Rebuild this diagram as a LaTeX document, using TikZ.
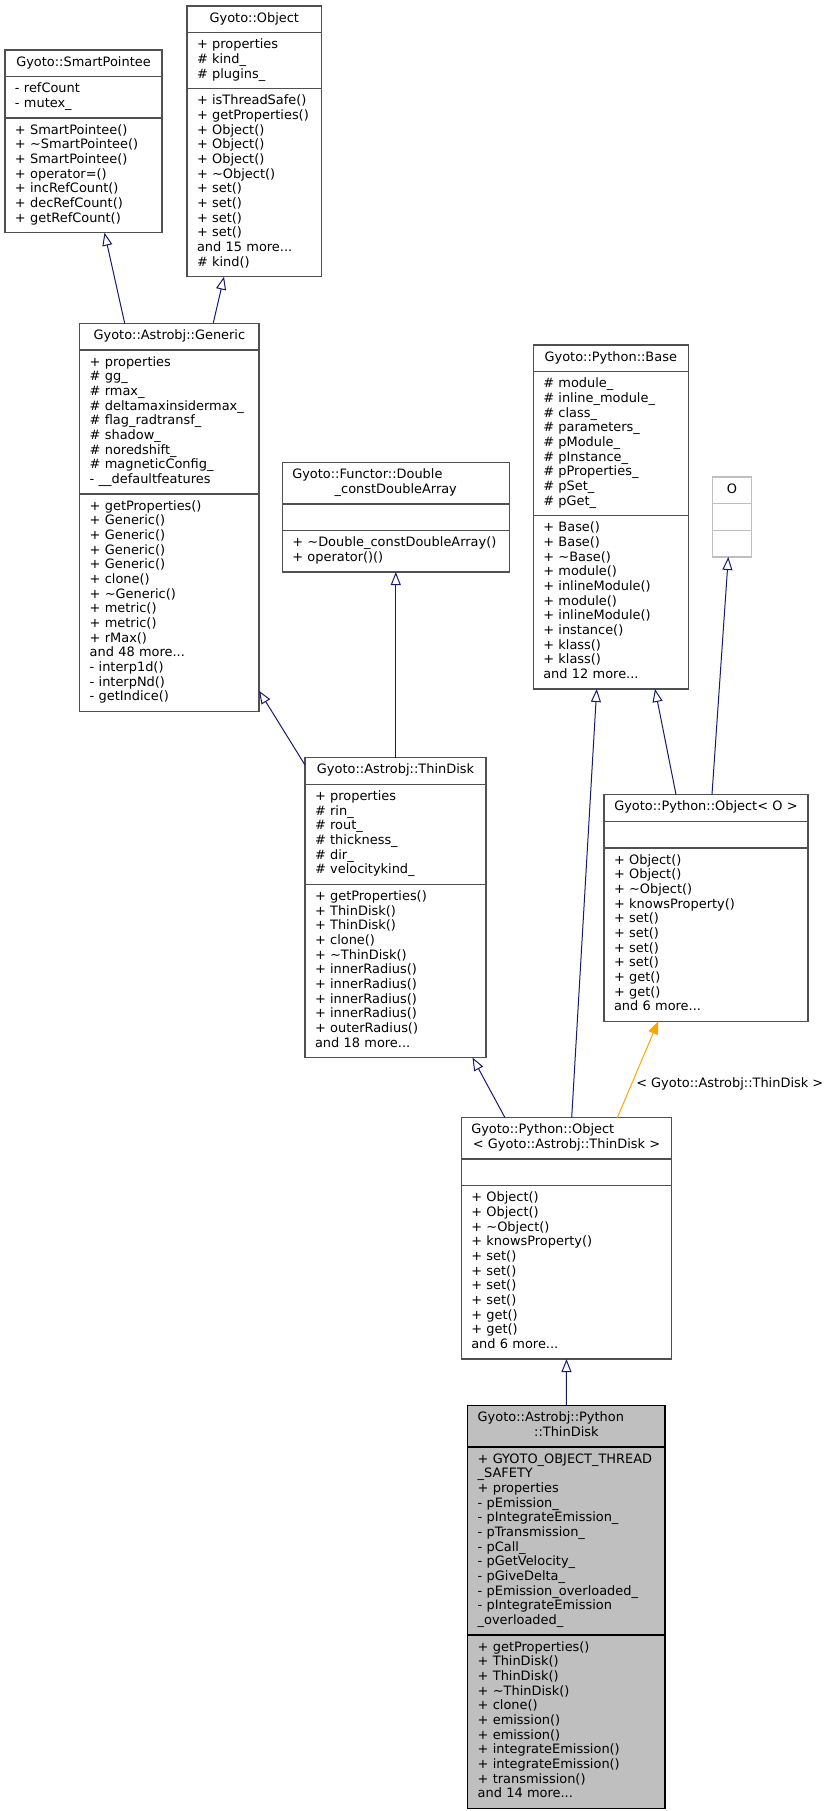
\documentclass[tikz,border=0pt]{standalone}
\usepackage{fontspec}
\setmainfont{DejaVu Sans}
\usepackage{xcolor}
\usepackage{tikz}
\usetikzlibrary{shapes.multipart,arrows.meta,calc}
\definecolor{edgeblue}{HTML}{191970}
\definecolor{edgeorange}{HTML}{FFA500}
\definecolor{boxgray}{HTML}{505050}
\definecolor{lightgray}{HTML}{BFBFBF}
\definecolor{maingray}{HTML}{BFBFBF}
\newcommand{\umlfont}{\fontsize{9.7}{11}\selectfont\parindent=0pt\relax}
\newcommand{\chead}[1]{\strut\makebox[\hsize]{#1}\strut}
\newcommand{\cheadtwo}[2]{\strut\makebox[\hsize][l]{#1}\\\makebox[\hsize]{#2}\strut}
\newcommand{\mlist}[1]{\begin{tabular}[t]{@{}l@{}}#1\end{tabular}}

\begin{document}
\begin{tikzpicture}[x=0.75pt,y=-0.75pt,
  cls/.style={draw=boxgray, line width=1pt, fill=white, rectangle split,
    rectangle split parts=3, anchor=north west, inner xsep=7.5pt,
    inner ysep=4pt, outer sep=0pt, align=left, font=\umlfont},
  mainbox/.style={cls, draw=black, fill=maingray},
  inh/.style={draw=edgeblue, line width=0.75pt,
    -{Triangle[open,length=9.75pt,width=7.5pt]}},
  tmpl/.style={draw=edgeorange, line width=0.75pt,
    -{Triangle[length=9.75pt,width=7.5pt]}}]
  \useasboundingbox (0,0) rectangle (832,1811);

  \node[cls, text width=102.75pt] (smart) at (5,50)
    {\chead{Gyoto::SmartPointee}
     \nodepart{two}\mlist{- refCount\\- mutex\_}
     \nodepart{three}\mlist{+ SmartPointee()\\+ \textasciitilde SmartPointee()\\+ SmartPointee()\\+ operator=()\\+ incRefCount()\\+ decRefCount()\\+ getRefCount()}};
  \node[cls, text width=86pt] (obj) at (187,6)
    {\chead{Gyoto::Object}
     \nodepart{two}\mlist{+ properties\\\# kind\_\\\# plugins\_}
     \nodepart{three}\mlist{+ isThreadSafe()\\+ getProperties()\\+ Object()\\+ Object()\\+ Object()\\+ \textasciitilde Object()\\+ set()\\+ set()\\+ set()\\+ set()\\and 15 more...\\\# kind()}};
  \node[cls, text width=119.5pt] (generic) at (79.7,323.3)
    {\chead{Gyoto::Astrobj::Generic}
     \nodepart{two}\mlist{+ properties\\\# gg\_\\\# rmax\_\\\# deltamaxinsidermax\_\\\# flag\_radtransf\_\\\# shadow\_\\\# noredshift\_\\\# magneticConfig\_\\- \_\_defaultfeatures}
     \nodepart{three}\mlist{+ getProperties()\\+ Generic()\\+ Generic()\\+ Generic()\\+ Generic()\\+ clone()\\+ \textasciitilde Generic()\\+ metric()\\+ metric()\\+ rMax()\\and 48 more...\\- interp1d()\\- interpNd()\\- getIndice()}};
  \node[cls, text width=155.25pt] (functor) at (282.3,462.7)
    {\cheadtwo{Gyoto::Functor::Double}{\_constDoubleArray}
     \nodepart{two}\strut
     \nodepart{three}\mlist{+ \textasciitilde Double\_constDoubleArray()\\+ operator()()}};
  \node[cls, text width=101.25pt] (base) at (533.3,345)
    {\chead{Gyoto::Python::Base}
     \nodepart{two}\mlist{\# module\_\\\# inline\_module\_\\\# class\_\\\# parameters\_\\\# pModule\_\\\# pInstance\_\\\# pProperties\_\\\# pSet\_\\\# pGet\_}
     \nodepart{three}\mlist{+ Base()\\+ Base()\\+ \textasciitilde Base()\\+ module()\\+ inlineModule()\\+ module()\\+ inlineModule()\\+ instance()\\+ klass()\\+ klass()\\and 12 more...}};
  \node[cls, draw=lightgray, text width=14pt] (tparam) at (712.7,477)
    {\chead{O}
     \nodepart{two}\strut
     \nodepart{three}\strut};
  \node[cls, text width=120.75pt] (thin) at (305,757.5)
    {\chead{Gyoto::Astrobj::ThinDisk}
     \nodepart{two}\mlist{+ properties\\\# rin\_\\\# rout\_\\\# thickness\_\\\# dir\_\\\# velocitykind\_}
     \nodepart{three}\mlist{+ getProperties()\\+ ThinDisk()\\+ ThinDisk()\\+ clone()\\+ \textasciitilde ThinDisk()\\+ innerRadius()\\+ innerRadius()\\+ innerRadius()\\+ innerRadius()\\+ outerRadius()\\and 18 more...}};
  \node[cls, text width=138pt] (pyobjO) at (604,794.5)
    {\chead{Gyoto::Python::Object< O >}
     \nodepart{two}\strut
     \nodepart{three}\mlist{+ Object()\\+ Object()\\+ \textasciitilde Object()\\+ knowsProperty()\\+ set()\\+ set()\\+ set()\\+ set()\\+ get()\\+ get()\\and 6 more...}};
  \node[cls, text width=142.8pt] (pyobjTD) at (461.3,1117.7)
    {\cheadtwo{Gyoto::Python::Object}{< Gyoto::Astrobj::ThinDisk >}
     \nodepart{two}\strut
     \nodepart{three}\mlist{+ Object()\\+ Object()\\+ \textasciitilde Object()\\+ knowsProperty()\\+ set()\\+ set()\\+ set()\\+ set()\\+ get()\\+ get()\\and 6 more...}};
  \node[mainbox, text width=133pt] (pythin) at (467.7,1405.7)
    {\cheadtwo{Gyoto::Astrobj::Python}{::ThinDisk}
     \nodepart{two}\mlist{+ GYOTO\_OBJECT\_THREAD\\\_SAFETY\\+ properties\\- pEmission\_\\- pIntegrateEmission\_\\- pTransmission\_\\- pCall\_\\- pGetVelocity\_\\- pGiveDelta\_\\- pEmission\_overloaded\_\\- pIntegrateEmission\\\_overloaded\_}
     \nodepart{three}\mlist{+ getProperties()\\+ ThinDisk()\\+ ThinDisk()\\+ \textasciitilde ThinDisk()\\+ clone()\\+ emission()\\+ emission()\\+ integrateEmission()\\+ integrateEmission()\\+ transmission()\\and 14 more...}};

  \draw[inh] ($(generic.north west)+(45,0)$) -- ($(smart.south west)+(99.5,0)$);
  \draw[inh] ($(generic.north west)+(133.5,0)$) -- ($(obj.south west)+(37,0)$);
  \draw[inh] ($(thin.north west)+(0,7.5)$) -- ($(generic.south east)+(0,-20.5)$);
  \draw[inh] (functor.south |- thin.north) -- (functor.south);
  \draw[inh] ($(pyobjO.north west)+(72,0)$) -- ($(base.south west)+(121.7,0)$);
  \draw[inh] ($(pyobjO.north west)+(108,0)$) -- ($(tparam.south west)+(15.6,0)$);
  \draw[inh] ($(pyobjTD.north west)+(110.4,0)$) -- ($(base.south west)+(63.4,0)$);
  \draw[inh] ($(pyobjTD.north west)+(43.7,0)$) -- ($(thin.south west)+(167.5,0)$);
  \draw[tmpl] ($(pyobjTD.north west)+(156,0)$) -- ($(pyobjO.south west)+(54.3,0)$);
  \node[font=\umlfont, anchor=west, inner sep=0pt] (tmplabel) at (636,1084)
    {< Gyoto::Astrobj::ThinDisk >};
  \draw[inh] (pythin.north) -- (pyobjTD.south);
\end{tikzpicture}
\end{document}
